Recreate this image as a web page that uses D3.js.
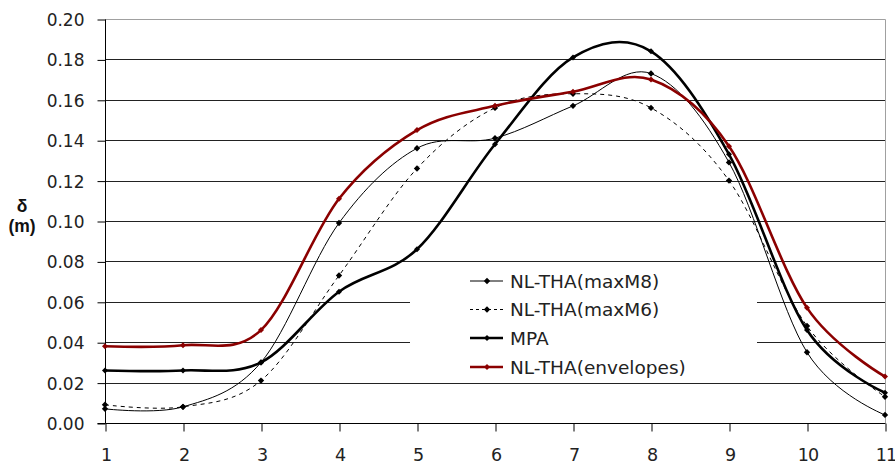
<!DOCTYPE html>
<html>
<head>
<meta charset="utf-8">
<script src="https://cdn.jsdelivr.net/npm/d3@7"></script>
<style>
  html, body { margin: 0; padding: 0; background: #fff; }
  svg { display: block; }
</style>
</head>
<body>
<svg id="chart" width="895" height="469"></svg>
<script>
// Storey positions along the horizontal axis
const storeys = [1, 2, 3, 4, 5, 6, 7, 8, 9, 10, 11];

// Displacement values δ (m) for each series
const nlthaMaxM8 = [0.007, 0.008, 0.030, 0.099, 0.136, 0.141, 0.157, 0.173, 0.129, 0.035, 0.004];
const nlthaMaxM6 = [0.009, 0.008, 0.021, 0.073, 0.126, 0.156, 0.163, 0.156, 0.120, 0.048, 0.013];
const mpa        = [0.026, 0.026, 0.030, 0.065, 0.086, 0.138, 0.181, 0.184, 0.133, 0.046, 0.015];
const nlthaEnv   = [0.038, 0.0385, 0.046, 0.111, 0.145, 0.157, 0.164, 0.170, 0.137, 0.057, 0.023];

// Axis ticks
const yTicks = [0, 0.02, 0.04, 0.06, 0.08, 0.10, 0.12, 0.14, 0.16, 0.18, 0.20];
const xTicks = [1, 2, 3, 4, 5, 6, 7, 8, 9, 10, 11];

const seriesNames = ["NL-THA(maxM8)", "NL-THA(maxM6)", "MPA", "NL-THA(envelopes)"];
const seriesValues = [nlthaMaxM8, nlthaMaxM6, mpa, nlthaEnv];

const styles = [
  { color: "#000", width: 1, dash: null, marker: 3.2 },
  { color: "#000", width: 1, dash: "4,4", marker: 3.2 },
  { color: "#000", width: 2.6, dash: null, marker: 3 },
  { color: "#8b0000", width: 2.6, dash: null, marker: 3 }
];

const svg = d3.select("#chart");
const plotLeft = 105, plotRight = 885, plotTop = 19, plotBottom = 423;

const x = d3.scaleLinear().domain([1, 11]).range([plotLeft, plotRight]);
const y = d3.scaleLinear().domain([0, 0.2]).range([plotBottom, plotTop]);

const tickFont = "DejaVu Sans, Verdana, sans-serif";

// Horizontal gridlines
svg.append("g")
  .selectAll("line")
  .data(yTicks.filter(v => v > 0 && v < 0.2))
  .join("line")
  .attr("x1", plotLeft).attr("x2", plotRight)
  .attr("y1", d => Math.round(y(d)) + 0.5)
  .attr("y2", d => Math.round(y(d)) + 0.5)
  .attr("stroke", "#222")
  .attr("stroke-width", 1);

// Plot-area border on top and right
svg.append("path")
  .attr("d", `M${plotLeft},${plotTop + 0.5}H${plotRight + 0.5}V${plotBottom}`)
  .attr("fill", "none")
  .attr("stroke", "#a0a0a0")
  .attr("stroke-width", 1);

// Y axis
const yAxis = svg.append("g")
  .attr("transform", `translate(${plotLeft + 0.5},0.5)`)
  .call(d3.axisLeft(y).tickValues(yTicks).tickFormat(d3.format(".2f")).tickSize(8).tickPadding(13));
yAxis.select(".domain").attr("stroke", "#000").attr("d", `M-8,${plotBottom}H0V${plotTop}`);
yAxis.selectAll(".tick line").attr("stroke", "#000");
yAxis.selectAll("text")
  .attr("font-family", tickFont)
  .attr("font-size", 17)
  .attr("fill", "#222")
  .attr("y", 0.5);

// X axis
const xAxis = svg.append("g")
  .attr("transform", `translate(0.5,${plotBottom + 0.5})`)
  .call(d3.axisBottom(x).tickValues(xTicks).tickFormat(d3.format("d")).tickSize(8).tickPadding(17));
xAxis.select(".domain").attr("stroke", "#000").attr("d", `M${plotLeft},0H${plotRight}`);
xAxis.selectAll(".tick line").attr("stroke", "#000");
xAxis.selectAll("text")
  .attr("font-family", tickFont)
  .attr("font-size", 17.5)
  .attr("letter-spacing", -1)
  .attr("fill", "#222");

// Axis title
const title = svg.append("text")
  .attr("font-family", "Liberation Sans, Arial, sans-serif")
  .attr("font-weight", "bold")
  .attr("font-size", 17.5)
  .attr("fill", "#111")
  .attr("text-anchor", "middle");
title.append("tspan").attr("x", 22).attr("y", 212).text("δ");
title.append("tspan").attr("x", 22).attr("y", 232).text("(m)");

// Series lines
const line = d3.line()
  .x((d, i) => x(storeys[i]))
  .y(d => y(d))
  .curve(d3.curveCardinal.tension(0));

// Small square diamond marker of half-diagonal r
const diamond = r => `M0,${-r}L${r},0L0,${r}L${-r},0Z`;

seriesValues.forEach((vals, k) => {
  const st = styles[k];
  const g = svg.append("g");
  g.append("path")
    .datum(vals)
    .attr("d", line)
    .attr("fill", "none")
    .attr("stroke", st.color)
    .attr("stroke-width", st.width)
    .attr("stroke-dasharray", st.dash)
    .attr("stroke-linejoin", "round");
  g.selectAll("path.pt")
    .data(vals)
    .join("path")
    .attr("class", "pt")
    .attr("d", diamond(st.marker))
    .attr("transform", (d, i) => `translate(${x(storeys[i])},${y(d)})`)
    .attr("fill", st.color);
});

// Legend
const legend = svg.append("g");
legend.append("rect")
  .attr("x", 410).attr("y", 266)
  .attr("width", 347).attr("height", 112)
  .attr("fill", "#fff");

const rowY = [281, 309.5, 338, 367];
seriesNames.forEach((name, k) => {
  const st = styles[k];
  const ly = rowY[k];
  legend.append("line")
    .attr("x1", 470).attr("x2", 503)
    .attr("y1", ly).attr("y2", ly)
    .attr("stroke", st.color)
    .attr("stroke-width", st.width)
    .attr("stroke-dasharray", st.dash ? "3,3" : null);
  legend.append("path")
    .attr("d", diamond(st.marker))
    .attr("transform", `translate(487,${ly})`)
    .attr("fill", st.color);
  legend.append("text")
    .attr("x", 510).attr("y", ly)
    .attr("dy", "0.36em")
    .attr("font-family", tickFont)
    .attr("font-size", 18.5)
    .attr("fill", "#222")
    .text(name);
});
</script>
</body>
</html>
